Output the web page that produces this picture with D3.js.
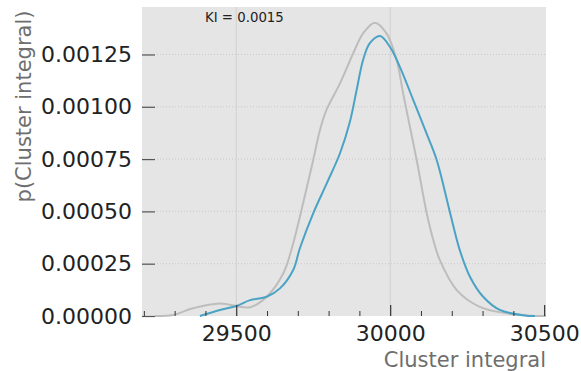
<!DOCTYPE html>
<html><head><meta charset="utf-8">
<script src="https://cdn.jsdelivr.net/npm/d3@7"></script>
<style>body{margin:0;background:#fff;}svg{display:block;font-family:"DejaVu Sans",sans-serif;}</style>
</head><body>
<svg id="c" width="581" height="371"></svg>
<script>
const grayX = [29236,29294,29359,29447,29545,29599,29653,29685,29712,29750,29772,29793,29837,29880,29912,29950,29988,30021,30042,30064,30086,30118,30140,30161,30216,30291,30378,30454,30506];
const grayY = [0,0.000005,0.000037,0.000060,0.000042,0.000092,0.000204,0.000348,0.000507,0.000746,0.000889,0.000985,0.001112,0.001256,0.001351,0.001402,0.001351,0.001224,0.001064,0.000905,0.000746,0.000496,0.000363,0.000268,0.000124,0.000044,0.000013,0.0000014,0];
const blueX = [29382,29447,29501,29545,29599,29642,29685,29707,29750,29794,29837,29869,29891,29912,29934,29967,29999,30031,30075,30118,30151,30194,30226,30259,30302,30356,30443,30470];
const blueY = [0,0.000029,0.000048,0.000076,0.000092,0.000132,0.000220,0.000325,0.000491,0.000634,0.000778,0.000927,0.001080,0.001224,0.001304,0.001338,0.001287,0.001192,0.001032,0.000873,0.000746,0.000496,0.000315,0.000188,0.000092,0.000029,0.0000014,0];
const xTicks = [29500,30000,30500];
const xMinor = [29200,29300,29400,29600,29700,29800,29900,30100,30200,30300,30400];
const yTicks = [0,0.00025,0.0005,0.00075,0.001,0.00125];
const yTickLabels = ["0.00000","0.00025","0.00050","0.00075","0.00100","0.00125"];
const annotation = "KI = 0.0015";
const xLabel = "Cluster integral";
const yLabel = "p(Cluster integral)";

const L=142,R=546,T=7,B=316;
const svg=d3.select("#c");
const x=d3.scaleLinear().domain([29194,30506]).range([L,R]);
const y=d3.scaleLinear().domain([0,0.001477]).range([B,T]);

svg.append("rect").attr("x",L).attr("y",T).attr("width",R-L).attr("height",B-T).attr("fill","#e5e5e5");
// grid
svg.append("g").selectAll("line").data(yTicks.filter(d=>d>0)).join("line")
  .attr("x1",L).attr("x2",R).attr("y1",d=>y(d)).attr("y2",d=>y(d))
  .attr("stroke","#c8c8c8").attr("stroke-width",1).attr("stroke-dasharray","1,2");
svg.append("g").selectAll("line").data(xTicks.filter(d=>d<30500)).join("line")
  .attr("x1",d=>x(d)).attr("x2",d=>x(d)).attr("y1",T).attr("y2",B)
  .attr("stroke","#d0d0d0").attr("stroke-width",1);

const line=d3.line().x(d=>x(d[0])).y(d=>y(Math.max(0,d[1]))).curve(d3.curveCatmullRom.alpha(0.5));
svg.append("path").datum(grayX.map((v,i)=>[v,grayY[i]])).attr("d",line)
  .attr("fill","none").attr("stroke","#bdbdbd").attr("stroke-width",2);
svg.append("path").datum(blueX.map((v,i)=>[v,blueY[i]])).attr("d",line)
  .attr("fill","none").attr("stroke","#4aa3c4").attr("stroke-width",2);

// y axis
const ya=d3.axisLeft(y).tickValues(yTicks).tickSize(-13).tickPadding(10).tickFormat((d,i)=>yTickLabels[i]);
const gy=svg.append("g").attr("transform",`translate(${L},0)`).call(ya);
gy.select(".domain").remove();
gy.selectAll(".tick line").attr("stroke","#555").attr("stroke-width",1.2);
gy.selectAll(".tick text").attr("font-size",22).attr("fill","#222").attr("font-family","DejaVu Sans");

// x axis
const xa=d3.axisBottom(x).tickValues(xTicks).tickSize(-11).tickPadding(9).tickFormat(d3.format("d"));
const gx=svg.append("g").attr("transform",`translate(0,${B})`).call(xa);
gx.select(".domain").remove();
gx.selectAll(".tick line").attr("stroke","#333").attr("stroke-width",1.2);
gx.selectAll(".tick text").attr("font-size",22).attr("fill","#222").attr("font-family","DejaVu Sans");
const xm=d3.axisBottom(x).tickValues(xMinor).tickSize(-5).tickFormat("");
const gm=svg.append("g").attr("transform",`translate(0,${B})`).call(xm);
gm.select(".domain").remove();
gm.selectAll(".tick line").attr("stroke","#333").attr("stroke-width",1);

svg.append("text").attr("x",205).attr("y",22).attr("font-size",13.3).attr("fill","#222").text(annotation);
svg.append("text").attr("x",546).attr("y",367).attr("text-anchor","end").attr("font-size",21).attr("fill","#6e6e6e").text(xLabel);
svg.append("text").attr("transform","translate(31,106.5) rotate(-90)").attr("text-anchor","middle").attr("font-size",21).attr("fill","#6e6e6e").text(yLabel);
</script>
</body></html>
